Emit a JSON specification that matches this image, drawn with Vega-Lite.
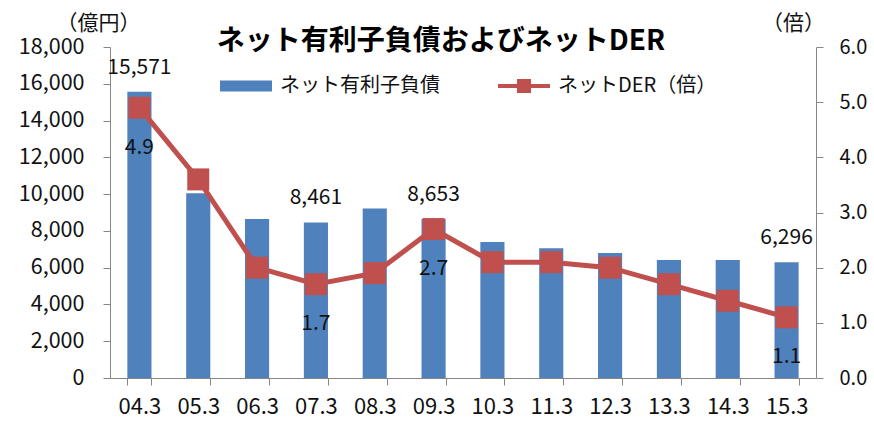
{
  "$schema": "https://vega.github.io/schema/vega-lite/v6.json",
  "autosize": {"type": "none"},
  "width": 706,
  "height": 331,
  "padding": {"left": 110, "top": 47, "right": 58, "bottom": 45},
  "background": "white",
  "config": {
    "font": "Noto Sans CJK JP",
    "view": {"stroke": null},
    "axis": {"labelFont": "Noto Sans CJK JP", "labelFontSize": 20, "labelColor": "#111", "domainColor": "#868686", "tickColor": "#868686", "grid": false, "titleFont": "Noto Sans CJK JP", "titleFontWeight": "normal", "titleFontSize": 21, "titleColor": "#111", "labelOverlap": false, "labelFlush": false}
  },
  "title": {"text": "ネット有利子負債およびネットDER", "fontSize": 28, "fontWeight": "bold", "font": "Noto Sans CJK JP", "anchor": "middle", "dx": -22, "dy": 44, "offset": 0, "color": "#000"},
  "data": {"values": [
    {"period": "04.3", "debt": 15571, "der": 4.9},
    {"period": "05.3", "debt": 10050, "der": 3.6},
    {"period": "06.3", "debt": 8640, "der": 2.0},
    {"period": "07.3", "debt": 8461, "der": 1.7},
    {"period": "08.3", "debt": 9220, "der": 1.9},
    {"period": "09.3", "debt": 8653, "der": 2.7},
    {"period": "10.3", "debt": 7400, "der": 2.1},
    {"period": "11.3", "debt": 7050, "der": 2.1},
    {"period": "12.3", "debt": 6800, "der": 2.0},
    {"period": "13.3", "debt": 6420, "der": 1.7},
    {"period": "14.3", "debt": 6420, "der": 1.4},
    {"period": "15.3", "debt": 6296, "der": 1.1}
  ]},
  "encoding": {
    "x": {"field": "period", "type": "ordinal", "sort": null,
      "scale": {"paddingInner": 0.59, "paddingOuter": 0.295},
      "axis": {"title": null, "labelAngle": 0, "tickBand": "extent", "tickSize": 7, "labelPadding": 11, "labelFontSize": 22}}
  },
  "layer": [
    {
      "encoding": {
        "y": {"field": "debt", "type": "quantitative", "scale": {"domain": [0, 18000]},
          "axis": {"values": [0,2000,4000,6000,8000,10000,12000,14000,16000,18000], "format": ",.0f", "tickSize": 7, "labelPadding": 19, "labelFontSize": 21.5,
            "title": "（億円）", "titleAngle": 0, "titleX": -12, "titleY": -24, "titleAlign": "center", "titleBaseline": "middle"}}
      },
      "layer": [
        {
          "mark": {"type": "bar"},
          "encoding": {
            "color": {"datum": "ネット有利子負債", "type": "nominal",
              "scale": {"domain": ["ネット有利子負債", "ネットDER（倍）"], "range": ["#4F81BD", "#C0504D"]},
              "legend": {"title": null, "orient": "none", "legendX": 110, "legendY": 13, "direction": "horizontal",
                "labelFontSize": 20, "labelFont": "Noto Sans CJK JP", "labelColor": "#111", "symbolSize": 2704, "labelOffset": 8, "columnPadding": 58,
                "encode": {"symbols": {"update": {
                  "shape": {"signal": "datum.value == 'ネット有利子負債' ? 'M-1,-0.21H1V0.21H-1Z' : 'M-1,-0.08H-0.27V-0.27H0.27V-0.08H1V0.08H0.27V0.27H-0.27V0.08H-1Z'"},
                  "fill": {"signal": "datum.value == 'ネット有利子負債' ? '#4F81BD' : '#C0504D'"},
                  "strokeWidth": {"value": 0}, "opacity": {"value": 1}, "fillOpacity": {"value": 1}}}}}}
          }
        },
        {
          "transform": [{"filter": {"field": "period", "oneOf": ["04.3", "07.3", "09.3", "15.3"]}}],
          "mark": {"type": "text", "baseline": "bottom", "dy": -14, "fontSize": 21, "color": "#111"},
          "encoding": {
            "text": {"field": "debt", "type": "quantitative", "format": ","}
          }
        }
      ]
    },
    {
      "encoding": {
        "y": {"field": "der", "type": "quantitative", "scale": {"domain": [0, 6]},
          "axis": {"orient": "right", "values": [0,1,2,3,4,5,6], "format": ".1f", "tickSize": 7, "labelPadding": 16,
            "title": "（倍）", "titleAngle": 0, "titleX": -23, "titleY": -24, "titleAlign": "center", "titleBaseline": "middle"}}
      },
      "layer": [
        {
          "mark": {"type": "line", "strokeWidth": 5, "point": {"shape": "square", "size": 484, "filled": true, "opacity": 1}},
          "encoding": {
            "color": {"datum": "ネットDER（倍）", "type": "nominal"}
          }
        },
        {
          "transform": [{"filter": {"field": "period", "oneOf": ["04.3", "07.3", "09.3", "15.3"]}}],
          "mark": {"type": "text", "baseline": "middle", "dy": 40, "fontSize": 21, "color": "#111"},
          "encoding": {
            "text": {"field": "der", "type": "quantitative", "format": ".1f"}
          }
        }
      ]
    }
  ],
  "resolve": {"scale": {"y": "independent"}}
}
